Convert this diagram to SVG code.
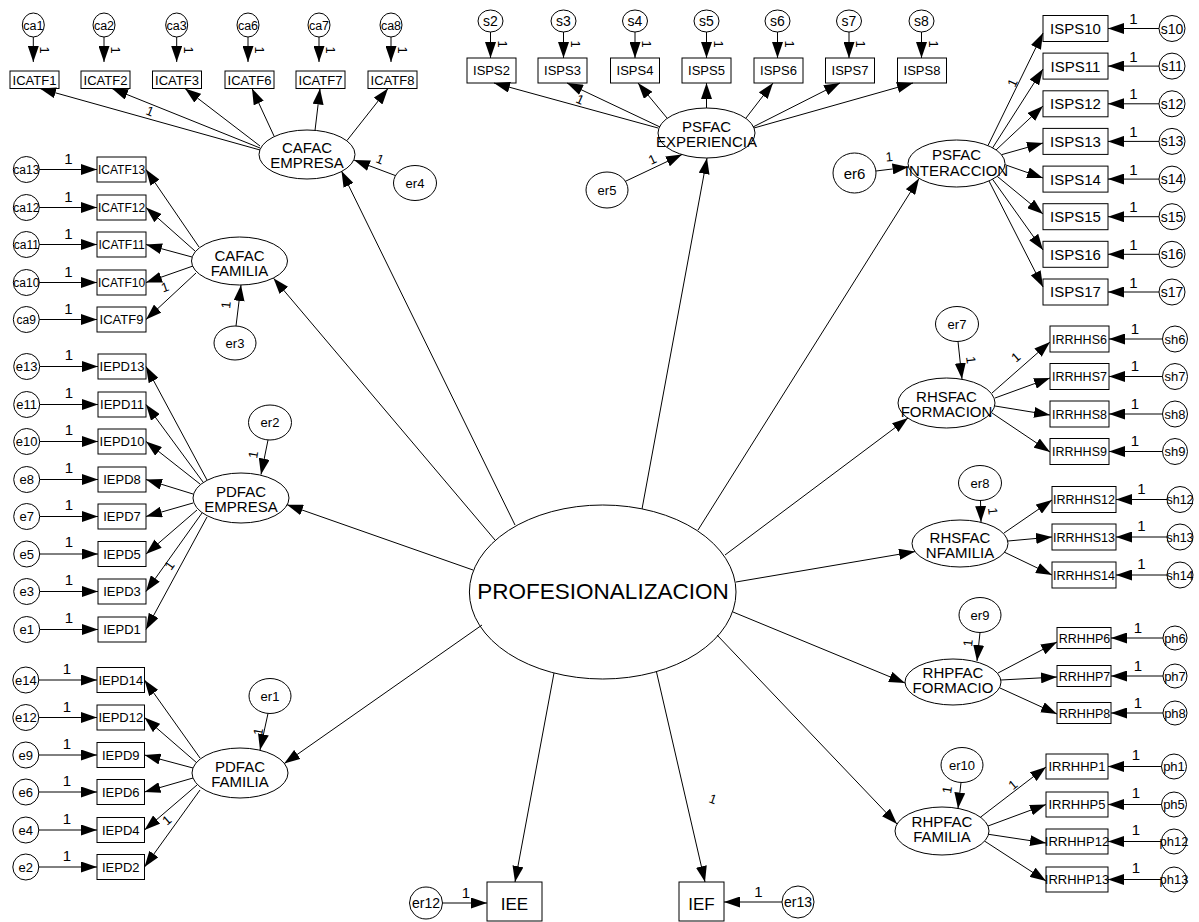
<svg xmlns="http://www.w3.org/2000/svg" width="1199" height="922" viewBox="0 0 1199 922">
<defs>
<marker id="ah" markerUnits="userSpaceOnUse" viewBox="0 0 16 11" markerWidth="16" markerHeight="11" refX="16" refY="5.5" orient="auto"><path d="M0,0L16,5.5L0,11z" fill="#000"/></marker>
</defs>
<style>
text{font-family:"Liberation Sans",Arial,sans-serif;fill:#000}
.s ellipse,.s rect{fill:#fff;stroke:#000;stroke-width:1}
.s text{text-anchor:middle}
#connectors line{stroke:#000;stroke-width:1;fill:none;marker-end:url(#ah)}
.l text{font-size:15px;text-anchor:middle}
.r text{font-size:13px}
.f12{font-size:12px}.f125{font-size:12.5px}.f13{font-size:13px}.f14{font-size:14px}.f15{font-size:15px}.f17{font-size:17px}
</style>
<rect width="1199" height="922" fill="#fff"/>

<g id="nodes">
<g id="PROFESIONALIZACION" class="s"><ellipse cx="602.7" cy="592" rx="133.3" ry="87"/><text x="603" y="599" style="font-size:22.5px">PROFESIONALIZACION</text></g>

<g id="CAFAC_EMPRESA" class="s f15"><ellipse cx="307" cy="154.5" rx="48" ry="24.5"/><text x="307" y="153">CAFAC</text><text x="307" y="168">EMPRESA</text></g>
<g id="er4" class="s f13"><ellipse cx="415" cy="183" rx="21.5" ry="17.5"/><text x="415" y="187.5">er4</text></g>
<g id="ICATF1" class="s f13"><rect x="10" y="71" width="49" height="17.5"/><text x="34.5" y="84.5">ICATF1</text></g>
<g id="ICATF2" class="s f13"><rect x="81" y="71" width="49" height="17.5"/><text x="105.5" y="84.5">ICATF2</text></g>
<g id="ICATF3" class="s f13"><rect x="152.5" y="71" width="49" height="17.5"/><text x="177" y="84.5">ICATF3</text></g>
<g id="ICATF6" class="s f13"><rect x="225" y="71" width="49" height="17.5"/><text x="249.5" y="84.5">ICATF6</text></g>
<g id="ICATF7" class="s f13"><rect x="296" y="71" width="49" height="17.5"/><text x="320.5" y="84.5">ICATF7</text></g>
<g id="ICATF8" class="s f13"><rect x="368" y="71" width="49" height="17.5"/><text x="392.5" y="84.5">ICATF8</text></g>
<g id="ca1" class="s f125"><ellipse cx="33.3" cy="25" rx="11" ry="12"/><text x="33.3" y="29.5">ca1</text></g>
<g id="ca2" class="s f125"><ellipse cx="104" cy="25" rx="11" ry="12"/><text x="104" y="29.5">ca2</text></g>
<g id="ca3" class="s f125"><ellipse cx="176.7" cy="25" rx="11" ry="12"/><text x="176.7" y="29.5">ca3</text></g>
<g id="ca6" class="s f125"><ellipse cx="248" cy="25" rx="11" ry="12"/><text x="248" y="29.5">ca6</text></g>
<g id="ca7" class="s f125"><ellipse cx="319" cy="25" rx="11" ry="12"/><text x="319" y="29.5">ca7</text></g>
<g id="ca8" class="s f125"><ellipse cx="391" cy="25" rx="11" ry="12"/><text x="391" y="29.5">ca8</text></g>

<g id="CAFAC_FAMILIA" class="s f15"><ellipse cx="239.5" cy="261" rx="48" ry="24"/><text x="239.5" y="260.5">CAFAC</text><text x="239.5" y="275.5">FAMILIA</text></g>
<g id="er3" class="s f13"><ellipse cx="235" cy="343" rx="21" ry="17"/><text x="235" y="347.5">er3</text></g>
<g id="ICATF13" class="s f12"><rect x="97" y="157" width="49" height="25"/><text x="121.5" y="173.8">ICATF13</text></g>
<g id="ICATF12" class="s f12"><rect x="97" y="195" width="49" height="25"/><text x="121.5" y="211.8">ICATF12</text></g>
<g id="ICATF11" class="s f12"><rect x="97" y="232" width="49" height="25"/><text x="121.5" y="248.8">ICATF11</text></g>
<g id="ICATF10" class="s f12"><rect x="97" y="270" width="49" height="25"/><text x="121.5" y="286.8">ICATF10</text></g>
<g id="ICATF9" class="s f13"><rect x="97" y="307" width="49" height="25"/><text x="121.5" y="324.2">ICATF9</text></g>
<g id="ca13" class="s f12"><ellipse cx="26.3" cy="169.5" rx="13" ry="13"/><text x="26.3" y="173.8">ca13</text></g>
<g id="ca12" class="s f12"><ellipse cx="26.3" cy="207.5" rx="13" ry="13"/><text x="26.3" y="211.8">ca12</text></g>
<g id="ca11" class="s f12"><ellipse cx="26.3" cy="244.5" rx="13" ry="13"/><text x="26.3" y="248.8">ca11</text></g>
<g id="ca10" class="s f12"><ellipse cx="26.3" cy="282.5" rx="13" ry="13"/><text x="26.3" y="286.8">ca10</text></g>
<g id="ca9" class="s f12"><ellipse cx="26.3" cy="319.5" rx="13" ry="13"/><text x="26.3" y="323.8">ca9</text></g>

<g id="PDFAC_EMPRESA" class="s f15"><ellipse cx="241" cy="498" rx="48" ry="25"/><text x="241" y="497">PDFAC</text><text x="241" y="512">EMPRESA</text></g>
<g id="er2" class="s f13"><ellipse cx="270" cy="422.5" rx="21.5" ry="17.5"/><text x="270" y="427">er2</text></g>
<g id="IEPD13" class="s f13"><rect x="98" y="354" width="48" height="25"/><text x="122" y="371.2">IEPD13</text></g>
<g id="IEPD11" class="s f13"><rect x="98" y="392" width="48" height="25"/><text x="122" y="409.2">IEPD11</text></g>
<g id="IEPD10" class="s f13"><rect x="98" y="429" width="48" height="25"/><text x="122" y="446.2">IEPD10</text></g>
<g id="IEPD8" class="s f13"><rect x="98" y="467" width="48" height="25"/><text x="122" y="484.2">IEPD8</text></g>
<g id="IEPD7" class="s f13"><rect x="98" y="504" width="48" height="25"/><text x="122" y="521.2">IEPD7</text></g>
<g id="IEPD5" class="s f13"><rect x="98" y="541.5" width="48" height="25"/><text x="122" y="558.7">IEPD5</text></g>
<g id="IEPD3" class="s f13"><rect x="98" y="579" width="48" height="25"/><text x="122" y="596.2">IEPD3</text></g>
<g id="IEPD1" class="s f13"><rect x="98" y="617" width="48" height="25"/><text x="122" y="634.2">IEPD1</text></g>
<g id="e13" class="s f13"><ellipse cx="26.7" cy="366.5" rx="13" ry="13"/><text x="26.7" y="371">e13</text></g>
<g id="e11" class="s f13"><ellipse cx="26.7" cy="404.5" rx="13" ry="13"/><text x="26.7" y="409">e11</text></g>
<g id="e10" class="s f13"><ellipse cx="26.7" cy="441.5" rx="13" ry="13"/><text x="26.7" y="446">e10</text></g>
<g id="e8" class="s f13"><ellipse cx="26.7" cy="479.5" rx="13" ry="13"/><text x="26.7" y="484">e8</text></g>
<g id="e7" class="s f13"><ellipse cx="26.7" cy="516.5" rx="13" ry="13"/><text x="26.7" y="521">e7</text></g>
<g id="e5" class="s f13"><ellipse cx="26.7" cy="554" rx="13" ry="13"/><text x="26.7" y="558.5">e5</text></g>
<g id="e3" class="s f13"><ellipse cx="26.7" cy="591.5" rx="13" ry="13"/><text x="26.7" y="596">e3</text></g>
<g id="e1" class="s f13"><ellipse cx="26.7" cy="629.5" rx="13" ry="13"/><text x="26.7" y="634">e1</text></g>

<g id="PDFAC_FAMILIA" class="s f15"><ellipse cx="240" cy="773" rx="48" ry="25"/><text x="240" y="772">PDFAC</text><text x="240" y="787">FAMILIA</text></g>
<g id="er1" class="s f13"><ellipse cx="270" cy="696" rx="21" ry="17.5"/><text x="270" y="700.5">er1</text></g>
<g id="IEPD14" class="s f13"><rect x="97" y="667.5" width="47.5" height="25"/><text x="120.8" y="684.7">IEPD14</text></g>
<g id="IEPD12" class="s f13"><rect x="97" y="705" width="47.5" height="25"/><text x="120.8" y="722.2">IEPD12</text></g>
<g id="IEPD9" class="s f13"><rect x="97" y="742.5" width="47.5" height="25"/><text x="120.8" y="759.7">IEPD9</text></g>
<g id="IEPD6" class="s f13"><rect x="97" y="779.5" width="47.5" height="25"/><text x="120.8" y="796.7">IEPD6</text></g>
<g id="IEPD4" class="s f13"><rect x="97" y="817.5" width="47.5" height="25"/><text x="120.8" y="834.7">IEPD4</text></g>
<g id="IEPD2" class="s f13"><rect x="97" y="854.5" width="47.5" height="25"/><text x="120.8" y="871.7">IEPD2</text></g>
<g id="e14" class="s f13"><ellipse cx="25.8" cy="680" rx="13" ry="13"/><text x="25.8" y="684.5">e14</text></g>
<g id="e12" class="s f13"><ellipse cx="25.8" cy="717.5" rx="13" ry="13"/><text x="25.8" y="722">e12</text></g>
<g id="e9" class="s f13"><ellipse cx="25.8" cy="755" rx="13" ry="13"/><text x="25.8" y="759.5">e9</text></g>
<g id="e6" class="s f13"><ellipse cx="25.8" cy="792" rx="13" ry="13"/><text x="25.8" y="796.5">e6</text></g>
<g id="e4" class="s f13"><ellipse cx="25.8" cy="830" rx="13" ry="13"/><text x="25.8" y="834.5">e4</text></g>
<g id="e2" class="s f13"><ellipse cx="25.8" cy="867" rx="13" ry="13"/><text x="25.8" y="871.5">e2</text></g>

<g id="PSFAC_EXPERIENCIA" class="s f15"><ellipse cx="706.5" cy="133" rx="48.5" ry="25"/><text x="706.5" y="132">PSFAC</text><text x="706.5" y="147">EXPERIENCIA</text></g>
<g id="er5" class="s f13"><ellipse cx="607" cy="190" rx="21" ry="18"/><text x="607" y="194.5">er5</text></g>
<g id="ISPS2" class="s f13"><rect x="467" y="58" width="49" height="25"/><text x="491.5" y="75">ISPS2</text></g>
<g id="ISPS3" class="s f13"><rect x="538" y="58" width="49" height="25"/><text x="562.5" y="75">ISPS3</text></g>
<g id="ISPS4" class="s f13"><rect x="610.5" y="58" width="49" height="25"/><text x="635" y="75">ISPS4</text></g>
<g id="ISPS5" class="s f13"><rect x="682" y="58" width="49" height="25"/><text x="706.5" y="75">ISPS5</text></g>
<g id="ISPS6" class="s f13"><rect x="754" y="58" width="49" height="25"/><text x="778.5" y="75">ISPS6</text></g>
<g id="ISPS7" class="s f13"><rect x="825.5" y="58" width="49" height="25"/><text x="850" y="75">ISPS7</text></g>
<g id="ISPS8" class="s f13"><rect x="897.5" y="58" width="49" height="25"/><text x="922" y="75">ISPS8</text></g>
<g id="s2" class="s f14"><ellipse cx="490.5" cy="21" rx="12.5" ry="11"/><text x="490.5" y="26">s2</text></g>
<g id="s3" class="s f14"><ellipse cx="563.5" cy="21" rx="12.5" ry="11"/><text x="563.5" y="26">s3</text></g>
<g id="s4" class="s f14"><ellipse cx="635" cy="21" rx="12.5" ry="11"/><text x="635" y="26">s4</text></g>
<g id="s5" class="s f14"><ellipse cx="706.5" cy="21" rx="12.5" ry="11"/><text x="706.5" y="26">s5</text></g>
<g id="s6" class="s f14"><ellipse cx="777.5" cy="21" rx="12.5" ry="11"/><text x="777.5" y="26">s6</text></g>
<g id="s7" class="s f14"><ellipse cx="849" cy="21" rx="12.5" ry="11"/><text x="849" y="26">s7</text></g>
<g id="s8" class="s f14"><ellipse cx="921.5" cy="21" rx="12.5" ry="11"/><text x="921.5" y="26">s8</text></g>

<g id="PSFAC_INTERACCION" class="s f15"><ellipse cx="956.5" cy="163.5" rx="48.5" ry="23.5"/><text x="956.5" y="160">PSFAC</text><text x="956.5" y="175.5">INTERACCION</text></g>
<g id="er6" class="s f15"><ellipse cx="854.5" cy="173" rx="21.5" ry="20"/><text x="854.5" y="178.5">er6</text></g>
<g id="ISPS10" class="s f15"><rect x="1043" y="15.5" width="65" height="26"/><text x="1075.5" y="33.9">ISPS10</text></g>
<g id="ISPS11" class="s f15"><rect x="1043" y="53.1" width="65" height="26"/><text x="1075.5" y="71.5">ISPS11</text></g>
<g id="ISPS12" class="s f15"><rect x="1043" y="90.8" width="65" height="26"/><text x="1075.5" y="109.2">ISPS12</text></g>
<g id="ISPS13" class="s f15"><rect x="1043" y="128.4" width="65" height="26"/><text x="1075.5" y="146.8">ISPS13</text></g>
<g id="ISPS14" class="s f15"><rect x="1043" y="166.1" width="65" height="26"/><text x="1075.5" y="184.5">ISPS14</text></g>
<g id="ISPS15" class="s f15"><rect x="1043" y="203.7" width="65" height="26"/><text x="1075.5" y="222.1">ISPS15</text></g>
<g id="ISPS16" class="s f15"><rect x="1043" y="241.3" width="65" height="26"/><text x="1075.5" y="259.7">ISPS16</text></g>
<g id="ISPS17" class="s f15"><rect x="1043" y="279" width="65" height="26"/><text x="1075.5" y="297.4">ISPS17</text></g>
<g id="s10" class="s f14"><ellipse cx="1172" cy="28.5" rx="13" ry="13"/><text x="1172" y="33.5">s10</text></g>
<g id="s11" class="s f14"><ellipse cx="1172" cy="66.1" rx="13" ry="13"/><text x="1172" y="71.1">s11</text></g>
<g id="s12" class="s f14"><ellipse cx="1172" cy="103.8" rx="13" ry="13"/><text x="1172" y="108.8">s12</text></g>
<g id="s13" class="s f14"><ellipse cx="1172" cy="141.4" rx="13" ry="13"/><text x="1172" y="146.4">s13</text></g>
<g id="s14" class="s f14"><ellipse cx="1172" cy="179.1" rx="13" ry="13"/><text x="1172" y="184.1">s14</text></g>
<g id="s15" class="s f14"><ellipse cx="1172" cy="216.7" rx="13" ry="13"/><text x="1172" y="221.7">s15</text></g>
<g id="s16" class="s f14"><ellipse cx="1172" cy="254.3" rx="13" ry="13"/><text x="1172" y="259.3">s16</text></g>
<g id="s17" class="s f14"><ellipse cx="1172" cy="292" rx="13" ry="13"/><text x="1172" y="297">s17</text></g>

<g id="RHSFAC_FORMACION" class="s f15"><ellipse cx="946.5" cy="403" rx="48.5" ry="25"/><text x="946.5" y="402">RHSFAC</text><text x="946.5" y="417">FORMACION</text></g>
<g id="er7" class="s f13"><ellipse cx="957" cy="324" rx="21.5" ry="17.5"/><text x="957" y="328.5">er7</text></g>
<g id="IRRHHS6" class="s f125"><rect x="1050" y="326" width="59" height="26"/><text x="1079.5" y="343.5">IRRHHS6</text></g>
<g id="IRRHHS7" class="s f125"><rect x="1050" y="363.5" width="59" height="26"/><text x="1079.5" y="381">IRRHHS7</text></g>
<g id="IRRHHS8" class="s f125"><rect x="1050" y="401" width="59" height="26"/><text x="1079.5" y="418.5">IRRHHS8</text></g>
<g id="IRRHHS9" class="s f125"><rect x="1050" y="438.5" width="59" height="26"/><text x="1079.5" y="456">IRRHHS9</text></g>
<g id="sh6" class="s f13"><ellipse cx="1175" cy="339" rx="12.5" ry="13"/><text x="1175" y="343.5">sh6</text></g>
<g id="sh7" class="s f13"><ellipse cx="1175" cy="376.5" rx="12.5" ry="13"/><text x="1175" y="381">sh7</text></g>
<g id="sh8" class="s f13"><ellipse cx="1175" cy="414" rx="12.5" ry="13"/><text x="1175" y="418.5">sh8</text></g>
<g id="sh9" class="s f13"><ellipse cx="1175" cy="451.5" rx="12.5" ry="13"/><text x="1175" y="456">sh9</text></g>

<g id="RHSFAC_NFAMILIA" class="s f15"><ellipse cx="960" cy="543.5" rx="48" ry="23.5"/><text x="960" y="542.5">RHSFAC</text><text x="960" y="557.5">NFAMILIA</text></g>
<g id="er8" class="s f13"><ellipse cx="980" cy="483" rx="21.5" ry="17.5"/><text x="980" y="487.5">er8</text></g>
<g id="IRRHHS12" class="s f125"><rect x="1052" y="486.5" width="64" height="26"/><text x="1084" y="504">IRRHHS12</text></g>
<g id="IRRHHS13" class="s f125"><rect x="1052" y="524" width="64" height="26"/><text x="1084" y="541.5">IRRHHS13</text></g>
<g id="IRRHHS14" class="s f125"><rect x="1052" y="562" width="64" height="26"/><text x="1084" y="579.5">IRRHHS14</text></g>
<g id="sh12" class="s f125"><ellipse cx="1180" cy="499.5" rx="13" ry="13"/><text x="1180" y="504">sh12</text></g>
<g id="sh13" class="s f125"><ellipse cx="1180" cy="537" rx="13" ry="13"/><text x="1180" y="541.5">sh13</text></g>
<g id="sh14" class="s f125"><ellipse cx="1180" cy="575" rx="13" ry="13"/><text x="1180" y="579.5">sh14</text></g>

<g id="RHPFAC_FORMACIO" class="s f15"><ellipse cx="953" cy="682" rx="48" ry="23"/><text x="953" y="677.5">RHPFAC</text><text x="953" y="692.5">FORMACIO</text></g>
<g id="er9" class="s f13"><ellipse cx="980" cy="615" rx="21" ry="17.5"/><text x="980" y="619.5">er9</text></g>
<g id="RRHHP6" class="s f125"><rect x="1057" y="627.5" width="54" height="21"/><text x="1084.5" y="642.5">RRHHP6</text></g>
<g id="RRHHP7" class="s f125"><rect x="1057" y="665.5" width="54" height="21"/><text x="1084.5" y="680.5">RRHHP7</text></g>
<g id="RRHHP8" class="s f125"><rect x="1057" y="702.5" width="54" height="21"/><text x="1084.5" y="717.5">RRHHP8</text></g>
<g id="ph6" class="s f13"><ellipse cx="1175" cy="638" rx="12" ry="12"/><text x="1175" y="642.5">ph6</text></g>
<g id="ph7" class="s f13"><ellipse cx="1175" cy="676" rx="12" ry="12"/><text x="1175" y="680.5">ph7</text></g>
<g id="ph8" class="s f13"><ellipse cx="1175" cy="713" rx="12" ry="12"/><text x="1175" y="717.5">ph8</text></g>

<g id="RHPFAC_FAMILIA" class="s f15"><ellipse cx="942" cy="831" rx="47" ry="24"/><text x="942" y="827">RHPFAC</text><text x="942" y="842">FAMILIA</text></g>
<g id="er10" class="s f13"><ellipse cx="962" cy="765" rx="21" ry="17.5"/><text x="962" y="769.5">er10</text></g>
<g id="IRRHHP1" class="s f13"><rect x="1046" y="754" width="62" height="25"/><text x="1077" y="771.2">IRRHHP1</text></g>
<g id="IRRHHP5" class="s f13"><rect x="1046" y="792" width="62" height="25"/><text x="1077" y="809.2">IRRHHP5</text></g>
<g id="IRRHHP12" class="s f13"><rect x="1046" y="829" width="62" height="25"/><text x="1077" y="846.2">IRRHHP12</text></g>
<g id="IRRHHP13" class="s f13"><rect x="1046" y="867" width="62" height="25"/><text x="1077" y="884.2">IRRHHP13</text></g>
<g id="ph1" class="s f13"><ellipse cx="1174" cy="766.5" rx="12.5" ry="12.5"/><text x="1174" y="771">ph1</text></g>
<g id="ph5" class="s f13"><ellipse cx="1174" cy="804.5" rx="12.5" ry="12.5"/><text x="1174" y="809">ph5</text></g>
<g id="ph12" class="s f13"><ellipse cx="1174" cy="841.5" rx="12.5" ry="12.5"/><text x="1174" y="846">ph12</text></g>
<g id="ph13" class="s f13"><ellipse cx="1174" cy="879.5" rx="12.5" ry="12.5"/><text x="1174" y="884">ph13</text></g>

<g id="IEE" class="s f17"><rect x="487" y="882" width="55" height="39"/><text x="514.5" y="910">IEE</text></g>
<g id="IEF" class="s f17"><rect x="679" y="882" width="45" height="39"/><text x="701.5" y="910">IEF</text></g>
<g id="er12" class="s f14"><ellipse cx="426" cy="903" rx="16.5" ry="16"/><text x="426" y="908">er12</text></g>
<g id="er13" class="s f14"><ellipse cx="798" cy="902" rx="16" ry="16"/><text x="798" y="907">er13</text></g>
</g>

<g id="connectors">
<line x1="33.3" y1="37" x2="33.3" y2="62"/><line x1="104" y1="37" x2="104" y2="62"/><line x1="176.7" y1="37" x2="176.7" y2="62"/><line x1="248" y1="37" x2="248" y2="62"/><line x1="319" y1="37" x2="319" y2="62"/><line x1="391" y1="37" x2="391" y2="62"/>
<line x1="260" y1="150" x2="40" y2="88.5"/><line x1="260" y1="148" x2="112" y2="88.5"/><line x1="260" y1="146" x2="185" y2="88.5"/><line x1="274" y1="136" x2="252" y2="88.5"/><line x1="315" y1="130.5" x2="320" y2="88.5"/><line x1="347" y1="140.5" x2="388" y2="88.5"/>
<line x1="395.5" y1="175.6" x2="354" y2="160"/>
<line x1="515" y1="525" x2="341.5" y2="171"/>
<line x1="39.3" y1="169.5" x2="97" y2="169.5"/><line x1="39.3" y1="207.5" x2="97" y2="207.5"/><line x1="39.3" y1="244.5" x2="97" y2="244.5"/><line x1="39.3" y1="282.5" x2="97" y2="282.5"/><line x1="39.3" y1="319.5" x2="97" y2="319.5"/>
<line x1="199" y1="247" x2="146" y2="169.5"/><line x1="195" y1="251" x2="146" y2="207.5"/><line x1="192" y1="257" x2="146" y2="244.5"/><line x1="193" y1="266" x2="146" y2="282.5"/><line x1="196" y1="273" x2="146" y2="319.5"/>
<line x1="236" y1="326" x2="241" y2="285"/>
<line x1="495" y1="540" x2="273.5" y2="278.2"/>
<line x1="39.7" y1="366.5" x2="98" y2="366.5"/><line x1="39.7" y1="404.5" x2="98" y2="404.5"/><line x1="39.7" y1="441.5" x2="98" y2="441.5"/><line x1="39.7" y1="479.5" x2="98" y2="479.5"/><line x1="39.7" y1="516.5" x2="98" y2="516.5"/><line x1="39.7" y1="554" x2="98" y2="554"/><line x1="39.7" y1="591.5" x2="98" y2="591.5"/><line x1="39.7" y1="629.5" x2="98" y2="629.5"/>
<line x1="207" y1="480" x2="146" y2="366.5"/><line x1="203" y1="482" x2="146" y2="404.5"/><line x1="200" y1="484" x2="146" y2="441.5"/><line x1="193" y1="494" x2="146" y2="479.5"/><line x1="193" y1="503" x2="146" y2="516.5"/><line x1="197" y1="510" x2="146" y2="554"/><line x1="202" y1="513" x2="146" y2="591.5"/><line x1="207" y1="517" x2="146" y2="629.5"/>
<line x1="268" y1="440" x2="261" y2="474.5"/>
<line x1="473" y1="570" x2="287" y2="504.7"/>
<line x1="38.8" y1="680" x2="97" y2="680"/><line x1="38.8" y1="717.5" x2="97" y2="717.5"/><line x1="38.8" y1="755" x2="97" y2="755"/><line x1="38.8" y1="792" x2="97" y2="792"/><line x1="38.8" y1="830" x2="97" y2="830"/><line x1="38.8" y1="867" x2="97" y2="867"/>
<line x1="200" y1="758" x2="144.5" y2="680"/><line x1="197" y1="763" x2="144.5" y2="717.5"/><line x1="193" y1="768" x2="144.5" y2="755"/><line x1="193" y1="778" x2="144.5" y2="792"/><line x1="197" y1="785" x2="144.5" y2="830"/><line x1="200" y1="790" x2="144.5" y2="867"/>
<line x1="268" y1="713.5" x2="260" y2="750"/>
<line x1="482" y1="625" x2="284.2" y2="763.6"/>
<line x1="490.5" y1="32" x2="490.5" y2="58"/><line x1="563.5" y1="32" x2="563.5" y2="58"/><line x1="635" y1="32" x2="635" y2="58"/><line x1="706.5" y1="32" x2="706.5" y2="58"/><line x1="777.5" y1="32" x2="777.5" y2="58"/><line x1="849" y1="32" x2="849" y2="58"/><line x1="921.5" y1="32" x2="921.5" y2="58"/>
<line x1="658" y1="128" x2="494" y2="83"/><line x1="660" y1="127" x2="567" y2="83"/><line x1="667" y1="118" x2="638" y2="83"/><line x1="706.5" y1="108" x2="706.5" y2="83"/><line x1="746" y1="118" x2="773" y2="83"/><line x1="753" y1="127" x2="840" y2="83"/><line x1="754" y1="128" x2="913" y2="83"/>
<line x1="625.4" y1="181.3" x2="682" y2="154.5"/>
<line x1="642" y1="509" x2="707" y2="158"/>
<line x1="876" y1="171" x2="908.5" y2="167"/>
<line x1="698" y1="530" x2="919" y2="178.5"/>
<line x1="988" y1="145.5" x2="1043" y2="33"/><line x1="992.5" y1="148" x2="1043" y2="69"/><line x1="996" y1="150" x2="1043" y2="106"/><line x1="1001.5" y1="154.7" x2="1043" y2="143"/><line x1="1005" y1="164.7" x2="1043" y2="178"/><line x1="997.2" y1="176.3" x2="1043" y2="214"/><line x1="992.5" y1="179.2" x2="1043" y2="250"/><line x1="989" y1="181" x2="1043" y2="287"/>
<line x1="1159" y1="28.5" x2="1108" y2="28.5"/><line x1="1159" y1="66.1" x2="1108" y2="66.1"/><line x1="1159" y1="103.8" x2="1108" y2="103.8"/><line x1="1159" y1="141.4" x2="1108" y2="141.4"/><line x1="1159" y1="179.1" x2="1108" y2="179.1"/><line x1="1159" y1="216.7" x2="1108" y2="216.7"/><line x1="1159" y1="254.3" x2="1108" y2="254.3"/><line x1="1159" y1="292" x2="1108" y2="292"/>
<line x1="958" y1="341.5" x2="962" y2="379"/>
<line x1="725" y1="555" x2="908" y2="418"/>
<line x1="992" y1="393" x2="1050" y2="342"/><line x1="995" y1="398" x2="1050" y2="378"/><line x1="995" y1="406" x2="1050" y2="415"/><line x1="992" y1="413" x2="1050" y2="452"/>
<line x1="1162.5" y1="339" x2="1109" y2="339"/><line x1="1162.5" y1="376.5" x2="1109" y2="376.5"/><line x1="1162.5" y1="414" x2="1109" y2="414"/><line x1="1162.5" y1="451.5" x2="1109" y2="451.5"/>
<line x1="980.5" y1="500.5" x2="981" y2="522"/>
<line x1="736" y1="582" x2="915" y2="551.6"/>
<line x1="1004" y1="533" x2="1052" y2="500"/><line x1="1008" y1="541" x2="1052" y2="537"/><line x1="1004" y1="552" x2="1052" y2="575"/>
<line x1="1167" y1="499.5" x2="1116" y2="499.5"/><line x1="1167" y1="537" x2="1116" y2="537"/><line x1="1167" y1="575" x2="1116" y2="575"/>
<line x1="980" y1="632.5" x2="977" y2="661"/>
<line x1="733" y1="612" x2="905" y2="683"/>
<line x1="998" y1="673" x2="1057" y2="642"/><line x1="1001" y1="680" x2="1057" y2="677"/><line x1="1000" y1="688" x2="1057" y2="714"/>
<line x1="1163" y1="638" x2="1111" y2="638"/><line x1="1163" y1="676" x2="1111" y2="676"/><line x1="1163" y1="713" x2="1111" y2="713"/>
<line x1="961" y1="782.5" x2="958" y2="808.5"/>
<line x1="717" y1="635" x2="897" y2="824"/>
<line x1="980.5" y1="817.2" x2="1046" y2="767"/><line x1="988" y1="826" x2="1046" y2="804.5"/><line x1="988.5" y1="834.3" x2="1046" y2="843"/><line x1="984.6" y1="841.1" x2="1046" y2="881"/>
<line x1="1161.5" y1="766.5" x2="1108" y2="766.5"/><line x1="1161.5" y1="804.5" x2="1108" y2="804.5"/><line x1="1161.5" y1="841.5" x2="1108" y2="841.5"/><line x1="1161.5" y1="879.5" x2="1108" y2="879.5"/>
<line x1="554" y1="673" x2="515" y2="882"/>
<line x1="656.5" y1="672" x2="705" y2="882"/>
<line x1="442.5" y1="903" x2="487" y2="903"/>
<line x1="782" y1="902" x2="724" y2="902"/>
</g>

<g id="edge-labels" class="l">
<text x="68.5" y="164">1</text><text x="68.5" y="202">1</text><text x="68.5" y="239">1</text><text x="68.5" y="277">1</text><text x="68.5" y="314">1</text>
<text x="69" y="359.5">1</text><text x="69" y="397.5">1</text><text x="69" y="434.5">1</text><text x="69" y="472.5">1</text><text x="69" y="509.5">1</text><text x="69" y="547">1</text><text x="69" y="584.5">1</text><text x="69" y="622.5">1</text>
<text x="67" y="674">1</text><text x="67" y="711.5">1</text><text x="67" y="749">1</text><text x="67" y="786">1</text><text x="67" y="824">1</text><text x="67" y="861">1</text>
<text x="1133.5" y="24">1</text><text x="1133.5" y="61.6">1</text><text x="1133.5" y="99.3">1</text><text x="1133.5" y="136.9">1</text><text x="1133.5" y="174.6">1</text><text x="1133.5" y="212.2">1</text><text x="1133.5" y="249.8">1</text><text x="1133.5" y="287.5">1</text>
<text x="1135" y="333.5">1</text><text x="1135" y="371">1</text><text x="1135" y="408.5">1</text><text x="1135" y="446">1</text>
<text x="1141.5" y="493.5">1</text><text x="1141.5" y="531">1</text><text x="1141.5" y="569">1</text>
<text x="1138" y="632.5">1</text><text x="1138" y="670.5">1</text><text x="1138" y="707.5">1</text>
<text x="1136" y="760">1</text><text x="1136" y="798">1</text><text x="1136" y="835">1</text><text x="1136" y="873">1</text>
<text x="466" y="897.5">1</text><text x="758.5" y="897">1</text>
</g>

<g id="rotated-labels" class="r">
<text transform="translate(40.3,46.5) rotate(90)">1</text>
<text transform="translate(111,46.5) rotate(90)">1</text>
<text transform="translate(183.7,46.5) rotate(90)">1</text>
<text transform="translate(255,46.5) rotate(90)">1</text>
<text transform="translate(326,46.5) rotate(90)">1</text>
<text transform="translate(398,46.5) rotate(90)">1</text>
<text transform="translate(497.5,40.5) rotate(90)">1</text>
<text transform="translate(570.5,40.5) rotate(90)">1</text>
<text transform="translate(642,40.5) rotate(90)">1</text>
<text transform="translate(713.5,40.5) rotate(90)">1</text>
<text transform="translate(784.5,40.5) rotate(90)">1</text>
<text transform="translate(856,40.5) rotate(90)">1</text>
<text transform="translate(928.5,40.5) rotate(90)">1</text>
<text transform="translate(145,114) rotate(22)">1</text>
<text transform="translate(375,162) rotate(22)">1</text>
<text transform="translate(163,292.5) rotate(-19)">1</text>
<text transform="translate(230,309) rotate(-84)">1</text>
<text transform="translate(257,459) rotate(-80)">1</text>
<text transform="translate(171,571) rotate(-54.5)">1</text>
<text transform="translate(262,736) rotate(-80)">1</text>
<text transform="translate(167,826) rotate(-41)">1</text>
<text transform="translate(651,165) rotate(-25)" class="f15">1</text>
<text transform="translate(575,102) rotate(24)">1</text>
<text transform="translate(886,161.5) rotate(-5)" class="f15">1</text>
<text transform="translate(1015,88) rotate(-65)" class="f15">1</text>
<text transform="translate(966,357) rotate(82)">1</text>
<text transform="translate(1016,363) rotate(-41)">1</text>
<text transform="translate(988,508) rotate(84)">1</text>
<text transform="translate(972,647) rotate(-84)">1</text>
<text transform="translate(951,794) rotate(-82)">1</text>
<text transform="translate(1013,790.5) rotate(-40)">1</text>
<text transform="translate(708,802) rotate(20)">1</text>
</g>
</svg>
